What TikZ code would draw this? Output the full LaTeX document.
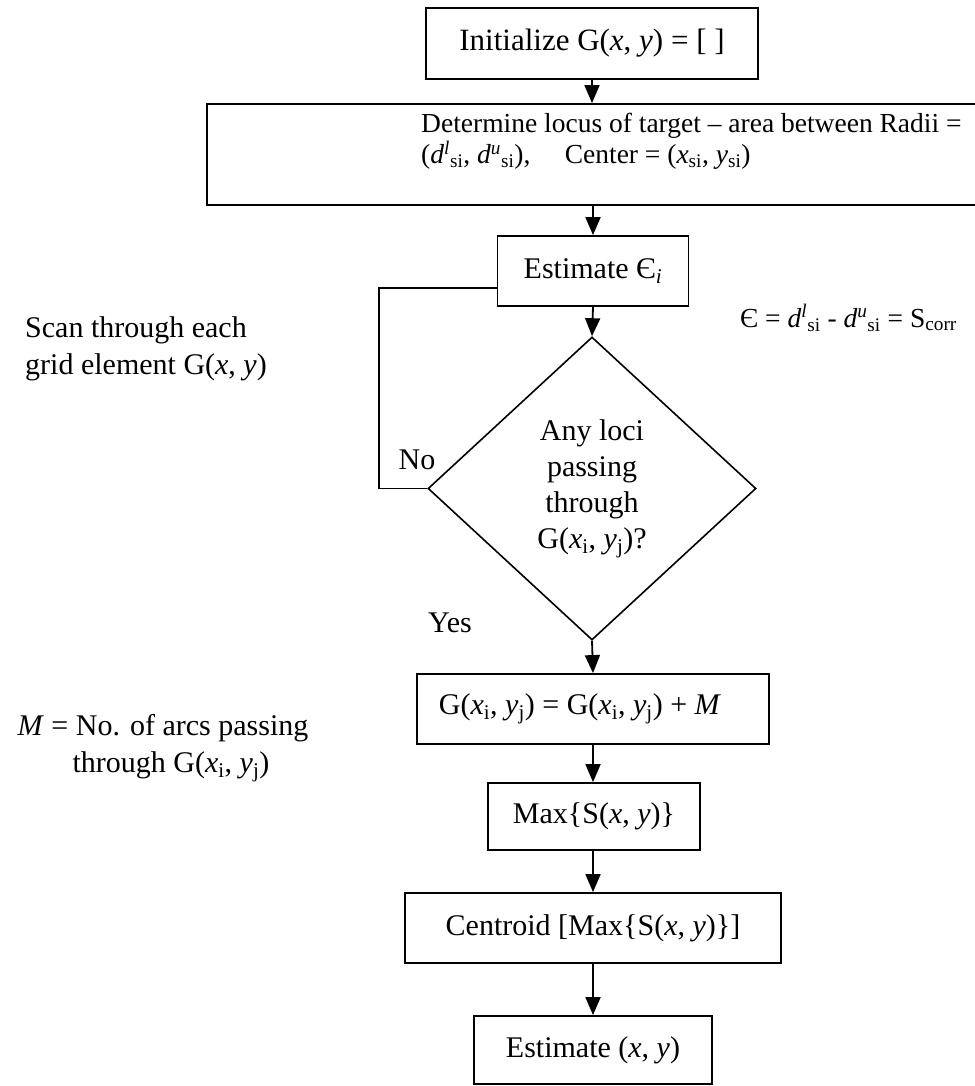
\documentclass[tikz,border=0pt]{standalone}
\usepackage{fontspec}
\setmainfont{Liberation Serif}
\usetikzlibrary{shapes.geometric,arrows.meta,calc}
\newcommand{\xsub}[1]{\textsubscript{#1}}
\newcommand{\xsup}[1]{\textsuperscript{#1}}
\tikzset{
  basefont/.style={font=\fontsize{30}{36}\selectfont},
  smallfont/.style={font=\fontsize{27.5}{31}\selectfont},
  txt/.style={basefont, inner sep=0pt},
  procbox/.style={draw, rectangle, line width=1.8pt, inner sep=0pt, basefont, align=center},
  decision/.style={draw, diamond, line width=1.6pt, inner sep=0pt, basefont, align=center},
  flow/.style={line width=1.8pt, -{Triangle[length=18pt,width=15pt]}},
  loopline/.style={line width=1.8pt},
}
\begin{document}
\begin{tikzpicture}[x=1pt,y=-1pt]
\useasboundingbox (0,0) rectangle (974,1086);

% process boxes
\node[procbox, minimum width=332pt, minimum height=71pt, font=\fontsize{31}{36}\selectfont] (init) at (592,43.5)
  {Initialize G(\textit{x}, \textit{y}) = [ ]};
\node[procbox, minimum width=783pt, minimum height=101pt] (locus) at (598.5,154.5) {};
\node[txt, smallfont, anchor=west, align=left] (locustxt) at (421,141)
  {Determine locus of target – area between Radii =\\
   (\textit{d}\xsup{\textit{l}}\xsub{si}, \textit{d}\xsup{\textit{u}}\xsub{si}),\ \ \ \ \ Center = (\textit{x}\xsub{si}, \textit{y}\xsub{si})};
\node[procbox, minimum width=191pt, minimum height=70pt] (est) at (593,271)
  {Estimate Є\xsub{\textit{i}}};
\node[decision, minimum width=328pt, minimum height=303pt] (dia) at (592,488.5)
  {Any loci\\passing\\through\\G(\textit{x}\xsub{i}, \textit{y}\xsub{j})?};
\node[procbox, minimum width=352pt, minimum height=70pt] (acc) at (593,709)
  {G(\textit{x}\xsub{i}, \textit{y}\xsub{j}) = G(\textit{x}\xsub{i}, \textit{y}\xsub{j}) + \textit{M}\hspace*{26pt}};
\node[procbox, minimum width=212pt, minimum height=67pt] (mx) at (594,816.5)
  {Max\{S(\textit{x}, \textit{y})\}};
\node[procbox, minimum width=376pt, minimum height=70pt] (cent) at (593,928)
  {Centroid [Max\{S(\textit{x}, \textit{y})\}]};
\node[procbox, minimum width=238pt, minimum height=68pt] (fin) at (593,1050)
  {Estimate (\textit{x}, \textit{y})};

% side notes and branch labels
\node[txt, smallfont, anchor=west] (eps) at (740,318)
  {Є = \textit{d}\xsup{\textit{l}}\xsub{si} - \textit{d}\xsup{\textit{u}}\xsub{si} = S\xsub{corr}};
\node[txt, anchor=west, align=left, font=\fontsize{30}{37}\selectfont] (scan) at (25,348.5)
  {Scan through each\\grid element G(\textit{x}, \textit{y})};
\node[txt, align=center, font=\fontsize{30}{37}\selectfont] (mnote) at (163,748)
  {\textit{M} = No. of arcs passing\\\hspace*{16pt}through G(\textit{x}\xsub{i}, \textit{y}\xsub{j})};
\node[txt] (no) at (417,460) {No};
\node[txt] (yes) at (450,623) {Yes};

% main flow
\draw[flow] (init.south) -- (init.south |- locus.north);
\draw[flow] (locus.south -| est.north) -- (est.north);
\draw[flow] (est.south) -- (dia.north);
\draw[flow] (dia.south) -- (acc.north);
\draw[flow] (acc.south) -- (acc.south |- mx.north);
\draw[flow] (mx.south -| cent.north) -- (cent.north);
\draw[flow] (cent.south) -- (fin.north);

% "No" branch back to the estimate step
\coordinate (lpb) at (379,488.5);
\coordinate (lpt) at (379,288);
\draw[loopline] (dia.west) -- (lpb) -- (lpt) -- (lpt -| est.west);
\end{tikzpicture}
\end{document}
